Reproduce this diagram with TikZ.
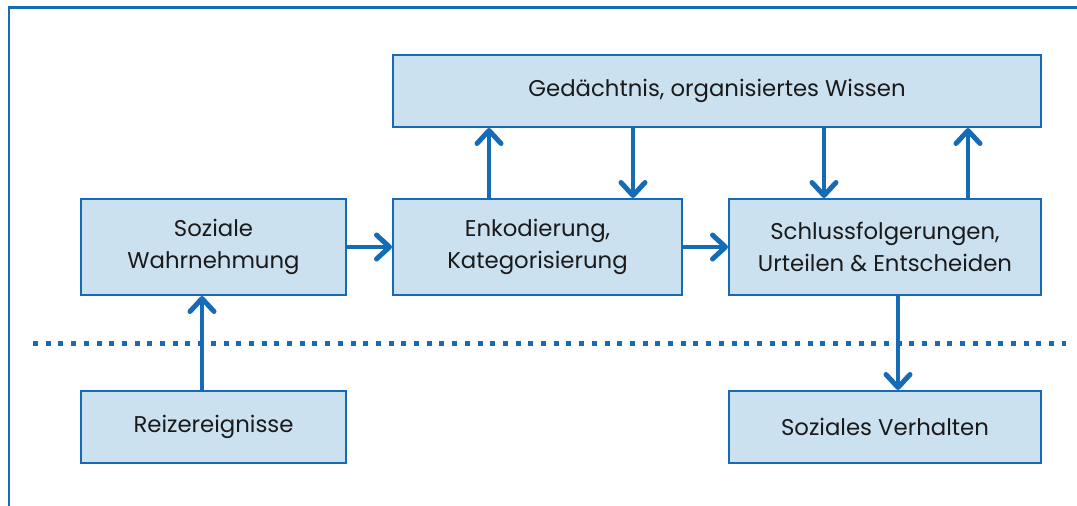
\documentclass[tikz,border=0pt]{standalone}
\usepackage{fontspec}
\setmainfont{Poppins}
\usetikzlibrary{arrows.meta}
\definecolor{fblue}{HTML}{166BB6}
\definecolor{lblue}{HTML}{CCE1F0}
\definecolor{txt}{HTML}{1A1A1A}
\tikzset{
  box/.style={draw=fblue, fill=lblue, line width=2pt, inner sep=0pt, align=center,
    text=txt, font=\fontsize{22.8}{32}\selectfont},
  arr/.style={draw=fblue, line width=4.5pt, -{Straight Barb[length=13pt,width=24pt,line width=5pt,round]}},
  frame/.style={draw=fblue, line width=2.5pt},
  sep/.style={draw=fblue, line width=5pt, dash pattern=on 5pt off 7.7pt}
}
\begin{document}
\begin{tikzpicture}[x=1pt,y=-1pt]
\useasboundingbox (0,0) rectangle (1077,506);
\draw[frame] (9,506) -- (9,7.5) -- (1077,7.5);
\node[box, minimum width=648pt, minimum height=72pt] (ged) at (717,91) {Gedächtnis, organisiertes Wissen};
\node[box, minimum width=265pt, minimum height=96pt] (soz) at (213.5,247) {Soziale\\Wahrnehmung};
\node[box, minimum width=289pt, minimum height=96pt] (enk) at (537.5,247) {Enkodierung,\\Kategorisierung};
\node[box, minimum width=312pt, minimum height=96pt] (sch) at (885,247) {Schlussfolgerungen,\\Urteilen \& Entscheiden};
\node[box, minimum width=265pt, minimum height=72pt] (rei) at (213.5,427) {Reizereignisse};
\node[box, minimum width=312pt, minimum height=72pt] (ver) at (885,427) {Soziales Verhalten};
\coordinate (d1) at (33,343);
\coordinate (d2) at (1066,343);
\draw[sep] (d1) -- (d2);
\coordinate (x1) at (202,0);
\coordinate (x2) at (489,0);
\coordinate (x3) at (633,0);
\coordinate (x4) at (824,0);
\coordinate (x5) at (968,0);
\coordinate (x6) at (898,0);
\draw[arr] (rei.north -| x1) -- (soz.south -| x1);
\draw[arr] (soz.east) -- (enk.west);
\draw[arr] (enk.east) -- (sch.west);
\draw[arr] (enk.north -| x2) -- (ged.south -| x2);
\draw[arr] (ged.south -| x3) -- (enk.north -| x3);
\draw[arr] (ged.south -| x4) -- (sch.north -| x4);
\draw[arr] (sch.north -| x5) -- (ged.south -| x5);
\draw[arr] (sch.south -| x6) -- (ver.north -| x6);
\end{tikzpicture}
\end{document}
